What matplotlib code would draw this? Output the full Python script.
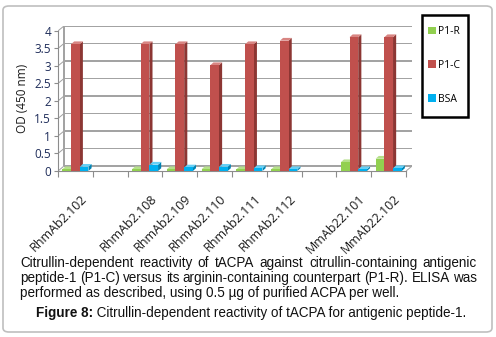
import matplotlib
matplotlib.use("Agg")
import matplotlib.pyplot as plt
from matplotlib.patches import Polygon, Rectangle, FancyBboxPatch, Patch
from matplotlib.transforms import ScaledTranslation

# --- dati ---
categories = ["RhmAb2.102", "", "RhmAb2.108", "RhmAb2.109", "RhmAb2.110",
              "RhmAb2.111", "RhmAb2.112", "", "MmAb22.101", "MmAb22.102"]
p1_r = [0.05, None, 0.05, 0.05, 0.05, 0.05, 0.05, None, 0.25, 0.35]
p1_c = [3.62, None, 3.62, 3.62, 3.02, 3.62, 3.72, None, 3.82, 3.82]
bsa = [0.12, None, 0.18, 0.10, 0.12, 0.08, 0.05, None, 0.05, 0.08]
series_names = ["P1-R", "P1-C", "BSA"]
yticks = [0, 0.5, 1, 1.5, 2, 2.5, 3, 3.5, 4]

caption_lines = [
    "Citrullin-dependent reactivity of tACPA against citrullin-containing antigenic",
    "peptide-1 (P1-C) versus its arginin-containing counterpart (P1-R). ELISA was",
    "performed as described, using 0.5 \u00b5g of purified ACPA per well.",
]
fig_label = "Figure 8:"
fig_title = " Citrullin-dependent reactivity of tACPA for antigenic peptide-1."

# --- stile ---
colors = {"P1-R": ("#92D050", "#6E9E3A", "#B5E08A"),
          "P1-C": ("#C0504D", "#8C3633", "#D88582"),
          "BSA": ("#00B0F0", "#0083B3", "#66D0F6")}
DX, DY = 0.17, 0.14      # profondita' parete di fondo
bdx, bdy = 0.09, 0.08    # profondita' barre
W = 0.25
GRID = "#A3A3A3"

W_PX, H_PX = 496, 337
fig = plt.figure(figsize=(W_PX / 100, H_PX / 100), dpi=100)

# cornice arrotondata
fig.patches.append(FancyBboxPatch((3 / W_PX, 5 / H_PX), 489 / W_PX, 326 / H_PX,
                                  boxstyle="round,pad=0,rounding_size=0.012",
                                  transform=fig.transFigure, fill=False,
                                  edgecolor="#BFBFBF", linewidth=1.2))

x0_px, x1_px = 58, 406 + 6
y0_px, y1_px = 166, 306 + 5
ax = fig.add_axes([x0_px / W_PX, y0_px / H_PX, (x1_px - x0_px) / W_PX, (y1_px - y0_px) / H_PX])
ax.set_xlim(-0.5, 9.5 + DX)
ax.set_ylim(0, 4 + DY)

# pareti 3D: linee della griglia come sottili poligoni (spessore ~1.3 px)
xl, xr = -0.5, 9.5
px_y = (y1_px - y0_px) / (4 + DY)          # pixel per unita' y
px_x = (x1_px - x0_px) / (9.5 + DX + 0.5)   # pixel per unita' x
h = 1.3 / px_y
w = 1.3 / px_x
wall = []
for t in yticks:
    wall.append([(xl + DX, t + DY - h / 2), (xr + DX, t + DY - h / 2),
                 (xr + DX, t + DY + h / 2), (xl + DX, t + DY + h / 2)])
    wall.append([(xl, t - h / 2), (xl + DX, t + DY - h / 2),
                 (xl + DX, t + DY + h / 2), (xl, t + h / 2)])
wall.append([(xl + DX - w / 2, DY), (xl + DX + w / 2, DY),
             (xl + DX + w / 2, 4 + DY), (xl + DX - w / 2, 4 + DY)])
wall.append([(xr, -h / 2), (xr + DX, DY - h / 2), (xr + DX, DY + h / 2), (xr, h / 2)])
for pts in wall:
    ax.add_patch(Polygon(pts, closed=True, facecolor=GRID, edgecolor="none", zorder=2))

# barre 3D
z = 3
for k, (name, vals) in enumerate(zip(series_names, [p1_r, p1_c, bsa])):
    front, side, top = colors[name]
    for i, v in enumerate(vals):
        if v is None:
            continue
        c = i + (k - 1) * W
        l, r = c - W / 2, c + W / 2
        ax.add_patch(Polygon([(r, 0), (r + bdx, bdy), (r + bdx, v + bdy), (r, v)],
                             closed=True, facecolor=side, edgecolor="none", zorder=z + k))
        ax.add_patch(Polygon([(l, v), (r, v), (r + bdx, v + bdy), (l + bdx, v + bdy)],
                             closed=True, facecolor=top, edgecolor="none", zorder=z + k))
    ax.bar([i + (k - 1) * W for i, v in enumerate(vals) if v is not None],
           [v for v in vals if v is not None], width=W, color=front,
           edgecolor="none", zorder=z + k + 0.5)

ax.set_xlim(-0.5, 9.5 + DX)
ax.set_ylim(0, 4 + DY)

# assi
for s in ["top", "right"]:
    ax.spines[s].set_visible(False)
ax.spines["left"].set_bounds(0, 4)
ax.spines["bottom"].set_bounds(-0.5, 9.5)
ax.spines["left"].set_color("#8C8C8C")
ax.spines["bottom"].set_color("#8C8C8C")
ax.set_yticks(yticks)
ax.set_yticklabels([f"{t:g}" for t in yticks], fontsize=8.5, color="#1F2D5A", family="Open Sans")
ax.tick_params(axis="y", length=3, color="#8C8C8C", pad=2)
ax.set_xticks([i - 0.5 for i in range(11)])
ax.set_xticklabels([])
ax.tick_params(axis="x", which="major", length=4, color="#8C8C8C", direction="out")
ax.set_xticks(range(10), minor=True)
ax.set_xticklabels(categories, minor=True, rotation=45, ha="right",
                   rotation_mode="anchor", fontsize=9, family="Open Sans", color="#1a1a1a")
ax.tick_params(axis="x", which="minor", length=0, pad=15)
for lab in ax.get_xticklabels(minor=True):
    lab.set_transform(lab.get_transform() + ScaledTranslation(5 / 100, 0, fig.dpi_scale_trans))
ax.set_ylabel("OD (450 nm)", fontsize=8.5, family="Open Sans", color="#1a1a1a", labelpad=4)

# legenda
handles = [Patch(facecolor=colors[n][0], edgecolor="none") for n in series_names]
leg = fig.legend(handles, series_names, loc="upper left",
                 bbox_to_anchor=(428 / W_PX, 1 - 26 / H_PX), borderaxespad=0,
                 prop={"family": "Open Sans", "size": 7.5},
                 handlelength=0.75, handleheight=0.75, handletextpad=0.25,
                 labelspacing=2.2, borderpad=0, frameon=False)
fig.patches.append(Rectangle((422 / W_PX, 1 - 117 / H_PX), 46 / W_PX, 102 / H_PX,
                             transform=fig.transFigure, fill=False,
                             edgecolor="black", linewidth=1.8))

# didascalia giustificata
fig.canvas.draw()
renderer = fig.canvas.get_renderer()
cap_font = dict(family="Liberation Sans", size=9.73, color="#111111")
left_px, right_px = 20, 477
line_y = [263, 278, 293]
for j, (line, yy) in enumerate(zip(caption_lines, line_y)):
    words = line.split(" ")
    ypos = 1 - yy / H_PX
    if j == len(caption_lines) - 1:
        fig.text(left_px / W_PX, ypos, line, va="center", ha="left", **cap_font)
        continue
    texts = [fig.text(0, ypos, w_, va="center", ha="left", **cap_font) for w_ in words]
    widths = [tx.get_window_extent(renderer).width for tx in texts]
    gap = (right_px - left_px - sum(widths)) / (len(words) - 1)
    xpos = left_px
    for tx, wd in zip(texts, widths):
        tx.set_x(xpos / W_PX)
        xpos += wd + gap

t1 = fig.text(0, 1 - 313 / H_PX, fig_label, va="center", ha="left",
              family="Liberation Sans", size=9.73, weight="bold", color="#111111")
t2 = fig.text(0, 1 - 313 / H_PX, fig_title, va="center", ha="left", **cap_font)
w1 = t1.get_window_extent(renderer).width
w2 = t2.get_window_extent(renderer).width
start = (37 + 465) / 2 - (w1 + w2) / 2
t1.set_x(start / W_PX)
t2.set_x((start + w1) / W_PX)

fig.savefig("out.png", dpi=100)
